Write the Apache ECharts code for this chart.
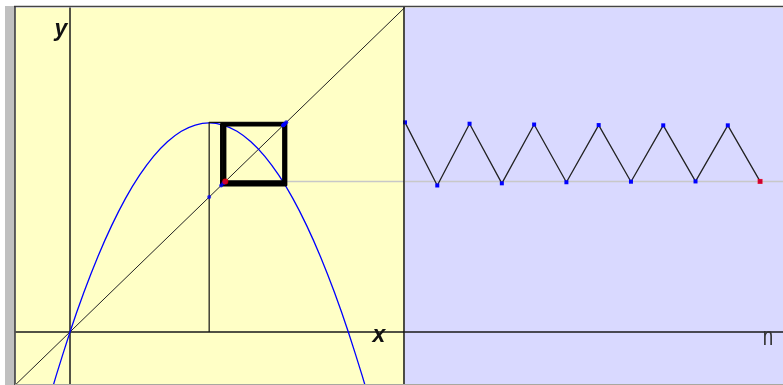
<!DOCTYPE html>
<html><head><meta charset="utf-8">
<script src="https://cdn.jsdelivr.net/npm/echarts@6/dist/echarts.min.js"></script>
<style>html,body{margin:0;padding:0;background:#fff;}#c{width:783px;height:385px;}</style>
</head><body><div id="c"></div>
<script>
// ---- data ----
const startValue = 0.5;
const iterates = [0.777, 0.543, 0.772, 0.551, 0.769, 0.555, 0.767, 0.557, 0.766, 0.558, 0.766, 0.558];
const steps = [0, 1, 2, 3, 4, 5, 6, 7, 8, 9, 10, 11];
const curveX = [-0.08, -0.05, 0, 0.05, 0.1, 0.15, 0.2, 0.25, 0.3, 0.35, 0.4, 0.45, 0.5, 0.55, 0.6, 0.65, 0.7, 0.75, 0.8, 0.85, 0.9, 0.95, 1.0, 1.05, 1.08];
const curveY = [-0.268, -0.163, 0, 0.147, 0.279, 0.395, 0.496, 0.581, 0.651, 0.705, 0.744, 0.767, 0.775, 0.767, 0.744, 0.705, 0.651, 0.581, 0.496, 0.395, 0.279, 0.147, 0, -0.163, -0.268];
const diagonalEnds = [-0.3, 1.3];
const xRange = [-0.194, 1.2];
const yRange = [-0.193, 1.201];
const nRange = [0, 11.71];
const axisNames = ['x', 'y', 'n'];

// ---- build library structures ----
const curve = curveX.map((x, i) => [x, curveY[i]]);
const diagonal = diagonalEnds.map(v => [v, v]);
const all = [startValue].concat(iterates);
const firstPath = [[all[0], 0], [all[0], all[1]], [all[1], all[1]]];
const cobweb = [[all[1], all[1]]];
for (let k = 1; k < all.length - 1; k++) {
  cobweb.push([all[k], all[k + 1]]);
  cobweb.push([all[k + 1], all[k + 1]]);
}
const last = all[all.length - 1];
const diagDots = all.slice(0, -1).map(v => [v, v]);
const lastDot = [[last, last]];
const series = steps.map((n, i) => [n, iterates[i]]);
const seriesLast = [[steps[steps.length - 1], iterates[iterates.length - 1]]];
const grayLeft = [[last, last], [xRange[1], last]];
const grayRight = [[nRange[0], last], [nRange[1], last]];

const hiddenAxis = {
  type: 'value', splitLine: {show: false}, axisTick: {show: false}, axisLabel: {show: false}
};
const axisLine = {show: true, onZero: true, lineStyle: {color: '#1a1a1a', width: 1.5}};

const chart = echarts.init(document.getElementById('c'), null, {renderer: 'canvas'});
chart.setOption({
  animation: false,
  backgroundColor: '#ffffff',
  grid: [
    {left: 16, top: 8, width: 388, height: 376, show: true, backgroundColor: '#ffffc6', borderWidth: 0},
    {left: 405, top: 8, width: 378, height: 376, show: true, backgroundColor: '#d9d9ff', borderWidth: 0}
  ],
  xAxis: [
    Object.assign({}, hiddenAxis, {gridIndex: 0, min: xRange[0], max: xRange[1], axisLine: axisLine}),
    Object.assign({}, hiddenAxis, {gridIndex: 1, min: nRange[0], max: nRange[1], axisLine: axisLine})
  ],
  yAxis: [
    Object.assign({}, hiddenAxis, {gridIndex: 0, min: yRange[0], max: yRange[1], axisLine: axisLine}),
    Object.assign({}, hiddenAxis, {gridIndex: 1, min: yRange[0], max: yRange[1], axisLine: {show: false}})
  ],
  series: [
    {type: 'line', xAxisIndex: 0, yAxisIndex: 0, data: grayLeft, symbol: 'none', lineStyle: {color: '#c8c8c8', width: 1.5}, z: 1},
    {type: 'line', xAxisIndex: 1, yAxisIndex: 1, data: grayRight, symbol: 'none', lineStyle: {color: '#c8c8c8', width: 1.5}, z: 1},
    {type: 'line', xAxisIndex: 0, yAxisIndex: 0, data: diagonal, symbol: 'none', lineStyle: {color: '#222', width: 1}, z: 2},
    {type: 'line', xAxisIndex: 0, yAxisIndex: 0, data: curve, symbol: 'none', smooth: 0.2, lineStyle: {color: '#0000ff', width: 1.3}, z: 3},
    {type: 'line', xAxisIndex: 0, yAxisIndex: 0, data: firstPath, symbol: 'none', lineStyle: {color: '#111', width: 1.2}, z: 4},
    {type: 'line', xAxisIndex: 0, yAxisIndex: 0, data: cobweb, symbol: 'none', lineStyle: {color: '#000', width: 2.2}, z: 4},
    {type: 'scatter', xAxisIndex: 0, yAxisIndex: 0, data: diagDots, symbol: 'circle', symbolSize: 4, itemStyle: {color: '#0000ff'}, z: 5},
    {type: 'scatter', xAxisIndex: 0, yAxisIndex: 0, data: lastDot, symbol: 'circle', symbolSize: 6, itemStyle: {color: '#ff0000'}, z: 6},
    {type: 'line', xAxisIndex: 1, yAxisIndex: 1, data: series, symbol: 'rect', symbolSize: 4, showSymbol: true,
      itemStyle: {color: '#0000ff'}, lineStyle: {color: '#222', width: 1.3}, z: 4},
    {type: 'scatter', xAxisIndex: 1, yAxisIndex: 1, data: seriesLast, symbol: 'rect', symbolSize: 5, itemStyle: {color: '#ff0000'}, z: 6}
  ],
  graphic: [
    {type: 'rect', shape: {x: 5, y: 6, width: 10, height: 379}, style: {fill: '#c0c0c0'}, z: 10},
    {type: 'line', shape: {x1: 14, y1: 6.5, x2: 783, y2: 6.5}, style: {stroke: '#444', lineWidth: 1.5}, z: 10},
    {type: 'line', shape: {x1: 15, y1: 6, x2: 15, y2: 385}, style: {stroke: '#333', lineWidth: 1.5}, z: 10},
    {type: 'line', shape: {x1: 404, y1: 7, x2: 404, y2: 385}, style: {stroke: '#111', lineWidth: 1.5}, z: 10},
    {type: 'line', shape: {x1: 15, y1: 384.5, x2: 783, y2: 384.5}, style: {stroke: '#a8a8a0', lineWidth: 1}, z: 10},
    {type: 'text', style: {text: axisNames[0], x: 379, y: 347, textAlign: 'center', textVerticalAlign: 'bottom',
      font: 'italic bold 23px "Liberation Sans", Arial, sans-serif', fill: '#111'}, z: 11},
    {type: 'text', style: {text: axisNames[1], x: 61, y: 41, textAlign: 'center', textVerticalAlign: 'bottom',
      font: 'italic bold 23px "Liberation Sans", Arial, sans-serif', fill: '#111'}, z: 11},
    {type: 'text', x: 768, y: 351, scaleX: 0.75, style: {text: axisNames[2], x: 0, y: 0, textAlign: 'center', textVerticalAlign: 'bottom',
      font: '25px "Liberation Sans", sans-serif', fill: '#333'}, z: 11}
  ]
});
</script>
</body></html>
